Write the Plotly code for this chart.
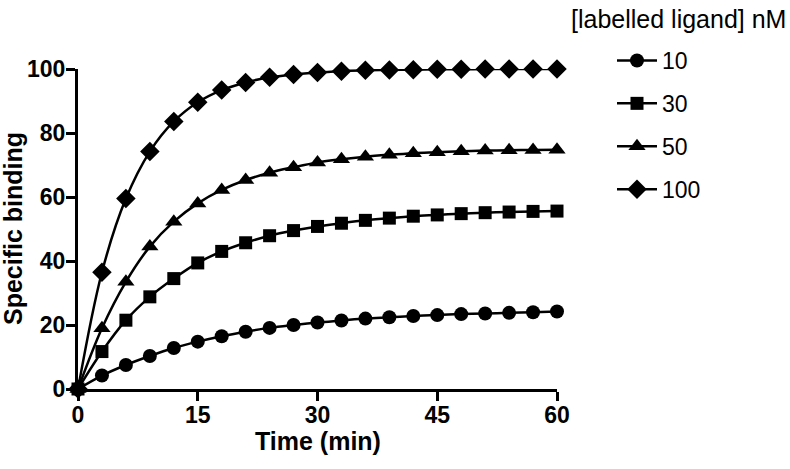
import plotly.graph_objects as go

time_min = [0, 3, 6, 9, 12, 15, 18, 21, 24, 27, 30, 33, 36, 39, 42, 45, 48, 51, 54, 57, 60]
series_names = ["10", "30", "50", "100"]
binding_10 = [0, 4.2, 7.5, 10.3, 12.8, 14.8, 16.5, 17.9, 19.1, 20.0, 20.8, 21.4, 22.0, 22.4, 22.8, 23.1, 23.4, 23.6, 23.8, 24.0, 24.2]
binding_30 = [0, 11.7, 21.5, 28.8, 34.5, 39.4, 43.0, 45.7, 47.9, 49.5, 50.8, 51.8, 52.7, 53.4, 54.0, 54.4, 54.8, 55.1, 55.3, 55.5, 55.6]
binding_50 = [0, 19.0, 33.5, 44.5, 52.3, 58.0, 62.2, 65.3, 67.6, 69.3, 70.8, 71.8, 72.6, 73.2, 73.7, 74.0, 74.3, 74.5, 74.6, 74.7, 74.8]
binding_100 = [0, 36.5, 59.5, 74.2, 83.6, 89.6, 93.4, 95.8, 97.4, 98.3, 98.9, 99.3, 99.6, 99.7, 99.8, 99.9, 99.9, 100, 100, 100, 100]
x_ticks = [0, 15, 30, 45, 60]
y_ticks = [0, 20, 40, 60, 80, 100]

series_values = [binding_10, binding_30, binding_50, binding_100]
symbols = ["circle", "square", "triangle-up", "diamond"]
sizes = [14, 13, 15, 15]

FONT = "Liberation Sans, Arial, sans-serif"

W, H = 790, 469
ML, MT, PW, PH = 78, 69, 479, 320

fig = go.Figure()
for name, vals, sym, sz in zip(series_names, series_values, symbols, sizes):
    fig.add_trace(go.Scatter(
        x=time_min, y=vals, name=name, legendgroup=name,
        mode="lines+markers",
        line=dict(color="black", width=2.5, shape="spline", smoothing=1),
        marker=dict(symbol=sym, size=sz, color="black"),
        cliponaxis=False,
    ))

fig.update_layout(
    width=W, height=H,
    margin=dict(l=ML, r=W - ML - PW, t=MT, b=H - MT - PH, autoexpand=False),
    paper_bgcolor="white", plot_bgcolor="white",
    font=dict(family=FONT, color="black"),
    showlegend=True,
    legend=dict(
        xref="container", yref="container",
        x=612 / W, y=1 - 39 / H, xanchor="left", yanchor="top",
        font=dict(size=23, family=FONT, color="black"),
        traceorder="grouped", tracegroupgap=10,
        itemwidth=40, bgcolor="rgba(0,0,0,0)",
    ),
    annotations=[
        dict(text="[labelled ligand] nM", xref="paper", yref="paper",
             x=(569 - ML) / PW, y=1 + (MT - 19) / PH,
             xanchor="left", yanchor="middle", showarrow=False,
             font=dict(size=25, family=FONT, color="black")),
        dict(text="Time (min)", xref="paper", yref="paper",
             x=0.5, y=-(441 - 389) / PH,
             xanchor="center", yanchor="middle", showarrow=False,
             font=dict(size=25, family=FONT, weight="bold", color="black")),
        dict(text="Specific binding", xref="paper", yref="paper",
             x=(13 - ML) / PW, y=(389 - 229) / PH, textangle=-90,
             xanchor="center", yanchor="middle", showarrow=False,
             font=dict(size=25, family=FONT, weight="bold", color="black")),
    ],
)

fig.update_xaxes(
    range=[0, 60], tickvals=x_ticks, ticktext=[str(v) for v in x_ticks],
    showgrid=False, zeroline=False, automargin=False,
    showline=True, linecolor="black", linewidth=3,
    ticks="outside", ticklen=9, tickwidth=3, tickcolor="black",
    ticklabelstandoff=-6,
    tickfont=dict(size=23, family=FONT, weight="bold", color="black"),
)
fig.update_yaxes(
    range=[0, 100], tickvals=y_ticks, ticktext=[str(v) for v in y_ticks],
    showgrid=False, zeroline=False, automargin=False,
    showline=True, linecolor="black", linewidth=3,
    ticks="outside", ticklen=9, tickwidth=3, tickcolor="black",
    ticklabelstandoff=-4,
    tickfont=dict(size=23, family=FONT, weight="bold", color="black"),
)

fig.write_html(
    "out.html",
    config={"displayModeBar": False},
    post_script="document.body.style.margin='0';document.body.style.overflow='hidden';",
)
